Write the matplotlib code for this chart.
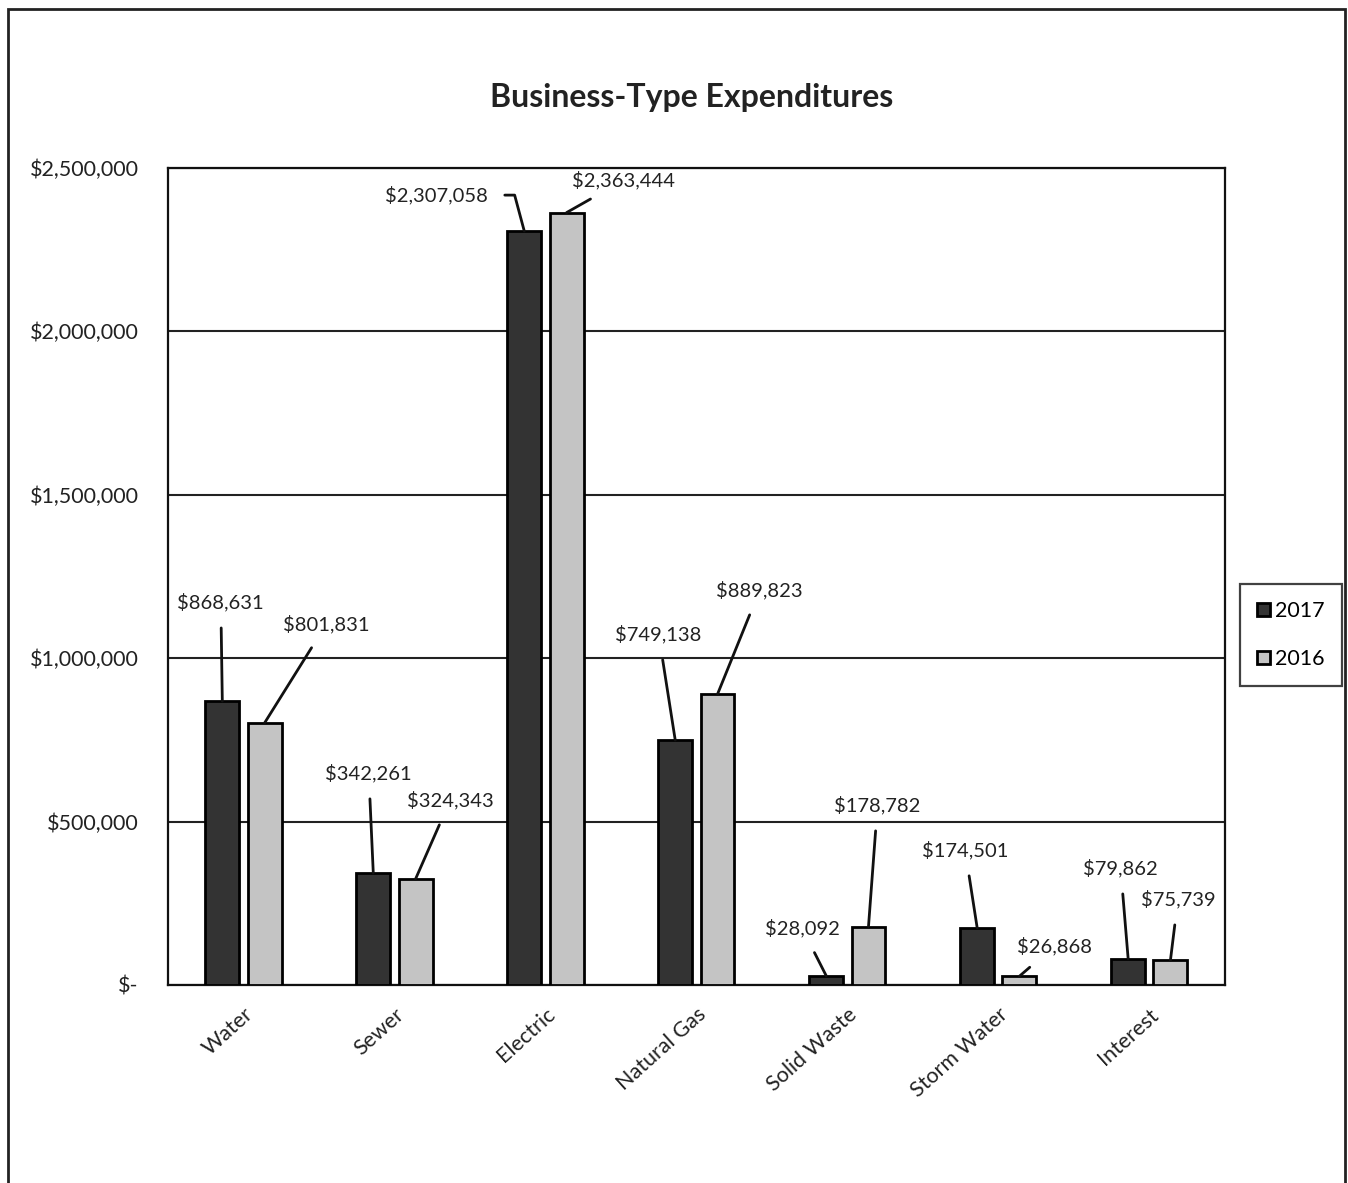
import matplotlib.pyplot as plt
from matplotlib.patches import Rectangle
from matplotlib.ticker import FuncFormatter
import numpy as np

plt.rcParams['font.family'] = ['Lato', 'DejaVu Sans']

categories = ['Water', 'Sewer', 'Electric', 'Natural Gas', 'Solid Waste', 'Storm Water', 'Interest']
exp_2017 = [868631, 342261, 2307058, 749138, 28092, 174501, 79862]
exp_2016 = [801831, 324343, 2363444, 889823, 178782, 26868, 75739]

# where each value label sits (x in category units, y in dollars)
label_pos_2017 = [(-0.15, 1172000), (0.83, 649000), (1.28, 2417000), (2.75, 1074000),
                  (3.70, 174000), (4.78, 413000), (5.81, 358000)]
label_pos_2016 = [(0.55, 1105000), (1.37, 566000), (2.52, 2463000), (3.42, 1209000),
                  (4.20, 551000), (5.37, 119000), (6.19, 263000)]

dark = '#333333'
light = '#c4c4c4'
width = 0.225
offset = 0.14


def money(v, pos=None):
    if v == 0:
        return '$-'
    return '${:,.0f}'.format(v)


fig = plt.figure(figsize=(13.48, 11.83), dpi=100)
ax = fig.add_axes([0.1246, 0.1674, 0.784, 0.6906])

x = np.arange(len(categories))
b1 = ax.bar(x - offset, exp_2017, width, color=dark, edgecolor='black', linewidth=2, label='2017', zorder=3)
b2 = ax.bar(x + offset, exp_2016, width, color=light, edgecolor='black', linewidth=2, label='2016', zorder=3)

ax.set_xlim(-0.5, 6.5)
ax.set_ylim(0, 2500000)
ax.set_yticks(np.arange(0, 2500001, 500000))
ax.yaxis.set_major_formatter(FuncFormatter(money))
ax.grid(axis='y', color='#222222', linewidth=1.5, zorder=0)
ax.tick_params(axis='y', length=0, labelsize=15.5, colors='#222222', pad=21)
ax.tick_params(axis='x', length=0, labelsize=15.5, colors='#222222', pad=14)
ax.set_xticks(x)
ax.set_xticklabels(categories, rotation=42, ha='right', rotation_mode='anchor')
for s in ax.spines.values():
    s.set_linewidth(1.6)
    s.set_color('#111111')


def add_labels(values, positions, xs):
    for i, (v, (tx, ty), bx) in enumerate(zip(values, positions, xs)):
        style = 'arc3'
        if i == 2 and v == exp_2017[2]:
            # Electric 2017 leader bends: short horizontal run, then down to the bar
            style = 'angle,angleA=0,angleB=105,rad=0'
        ax.annotate('${:,.0f}'.format(v), xy=(bx, v), xytext=(tx, ty),
                    ha='center', va='center', fontsize=14.5, color='#222222',
                    arrowprops=dict(arrowstyle='-', color='#111111', lw=2,
                                    shrinkA=10, shrinkB=0, connectionstyle=style),
                    zorder=4)


add_labels(exp_2017, label_pos_2017, x - offset)
add_labels(exp_2016, label_pos_2016, x + offset)

fig.text(0.513, 0.918, 'Business-Type Expenditures', ha='center', va='center',
         fontsize=23, fontweight='bold', color='#222222')

leg = fig.legend(handles=[b1, b2], loc='center', bbox_to_anchor=(1291 / 1348, 1 - 635 / 1183),
                 fontsize=15.5, frameon=True, fancybox=False, handlelength=0.6,
                 handleheight=0.6, handletextpad=0.25, labelspacing=1.3, borderpad=0.8,
                 borderaxespad=0)
leg.get_frame().set_edgecolor('#111111')
leg.get_frame().set_linewidth(1.6)

# outer chart border
fig.patches.append(Rectangle((0.006, -0.01), 0.992, 1.002, transform=fig.transFigure,
                             fill=False, edgecolor='#222222', linewidth=2))

fig.savefig('out.png', dpi=100)
